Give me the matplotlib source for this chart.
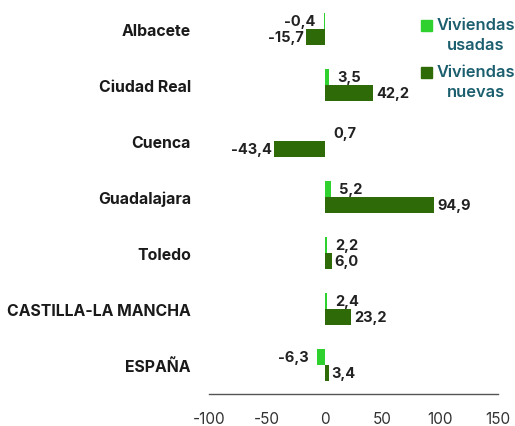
import matplotlib
matplotlib.use("Agg")
import matplotlib.pyplot as plt
from matplotlib.patches import Rectangle

categories = ["Albacete", "Ciudad Real", "Cuenca", "Guadalajara", "Toledo",
              "CASTILLA-LA MANCHA", "ESPAÑA"]
usadas = [-0.4, 3.5, 0.7, 5.2, 2.2, 2.4, -6.3]
nuevas = [-15.7, 42.2, -43.4, 94.9, 6.0, 23.2, 3.4]
series_names = ["Viviendas\nusadas", "Viviendas\nnuevas"]
xticks = [-100, -50, 0, 50, 100, 150]

c_usadas = "#2ED12E"
c_nuevas = "#2E6B08"
legend_color = "#1B5E6E"
font = ["Inter", "DejaVu Sans"]

fig = plt.figure(figsize=(5.15, 4.27), dpi=100)
ax = fig.add_axes([209/515, (427-395)/427, (498-209)/515, 394/427])

h = 0.28
y = list(range(len(categories)))
ax.barh([i - h/2 for i in y], usadas, height=h, color=c_usadas)
ax.barh([i + h/2 for i in y], nuevas, height=h, color=c_nuevas)

def fmt(v):
    return f"{v:.1f}".replace(".", ",")

for i, v in enumerate(usadas):
    off = 6 if v >= 0 else -6
    ax.annotate(fmt(v), (v, i - h/2), xytext=(off, 0), textcoords="offset points",
                ha="left" if v >= 0 else "right", va="center",
                fontsize=10.5, fontweight="bold", color="#222222", family=font)
for i, v in enumerate(nuevas):
    off = 2 if v >= 0 else -2
    ax.annotate(fmt(v), (v, i + h/2), xytext=(off, 0), textcoords="offset points",
                ha="left" if v >= 0 else "right", va="center",
                fontsize=10.5, fontweight="bold", color="#222222", family=font)

ax.set_xlim(-100, 150)
ax.set_ylim(len(categories) - 0.48, -0.52)
ax.set_xticks(xticks)
ax.set_xticklabels([str(t) for t in xticks], fontsize=11, color="#333333", family=font)
ax.set_yticks(y)
ax.set_yticklabels(categories, fontsize=11.4, fontweight="bold", color="#1a1a1a", family=font)
ax.tick_params(axis="both", length=0)
ax.tick_params(axis="x", pad=12)
ax.tick_params(axis="y", pad=13)
for s in ["top", "right", "left"]:
    ax.spines[s].set_visible(False)
ax.spines["bottom"].set_color("#555555")
ax.spines["bottom"].set_linewidth(1)

# legend drawn manually
for k, (name, col) in enumerate(zip(series_names, [c_usadas, c_nuevas])):
    ytop = 21 + k * 47
    fig.patches.append(Rectangle((421/515, (427 - ytop - 11)/427), 11/515, 11/427,
                                 transform=fig.transFigure, color=col))
    fig.text(476/515, (427 - ytop + 3)/427, name, ha="center", va="top",
             fontsize=11.8, fontweight="semibold", color=legend_color,
             family=font, linespacing=1.4, multialignment="center")

fig.savefig("out.png", dpi=100)
